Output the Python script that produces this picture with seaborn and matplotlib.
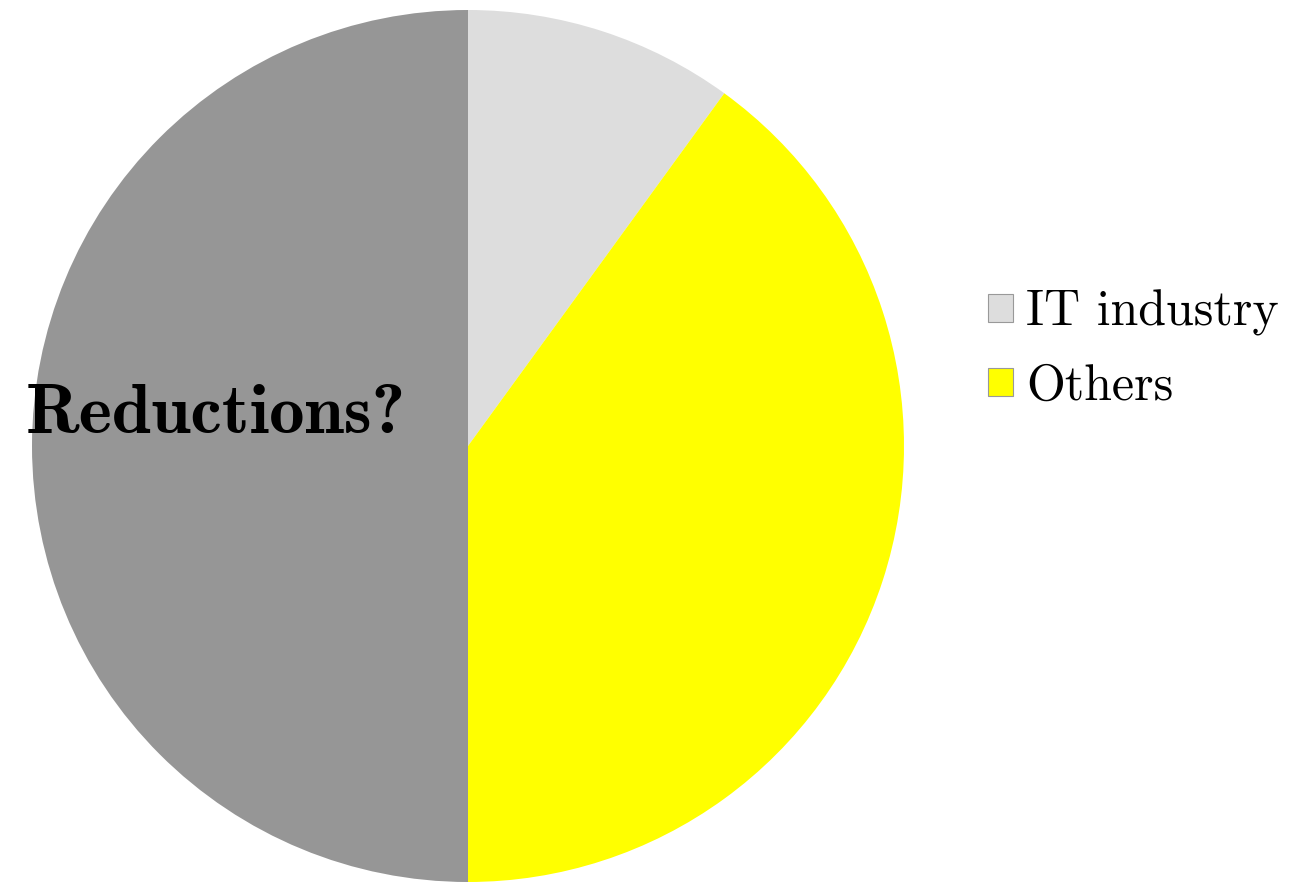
import matplotlib
matplotlib.use("Agg")
import matplotlib.pyplot as plt
import seaborn as sns

# Share of emissions by sector
categories = ["IT industry", "Others", "Reductions?"]
shares = [10, 40, 50]
colors = ["#dddddd", "#ffff00", "#969696"]

sns.set_style("white")
plt.rcParams["font.family"] = ["cmr10", "DejaVu Serif"]
plt.rcParams["axes.formatter.use_mathtext"] = True
plt.rcParams["text.color"] = "black"

fig = plt.figure(figsize=(12.91, 8.82), dpi=100)
ax = fig.add_axes([32 / 1291, 0 / 882, 872 / 1291, 872 / 882])

wedges, _ = ax.pie(
    shares,
    colors=colors,
    startangle=90,
    counterclock=False,
    radius=1.0,
    wedgeprops=dict(linewidth=0),
)
ax.set_xlim(-1, 1)
ax.set_ylim(-1, 1)
ax.set_aspect("equal")
ax.axis("off")

ax.text(-0.578, 0.07, categories[2], ha="center", va="center",
        fontsize=51, family="cmb10", color="black")

leg = fig.legend(
    wedges[:2], categories[:2],
    loc="center left",
    bbox_to_anchor=(988 / 1291, 1 - 350 / 882),
    frameon=False,
    fontsize=36,
    handlelength=0.5,
    handleheight=0.5,
    handletextpad=0.27,
    labelspacing=0.55,
    borderpad=0,
    borderaxespad=0,
    labelcolor="black",
)
for h in leg.legend_handles:
    h.set_edgecolor("#999999")
    h.set_linewidth(0.8)

fig.savefig("out.png", dpi=100)
